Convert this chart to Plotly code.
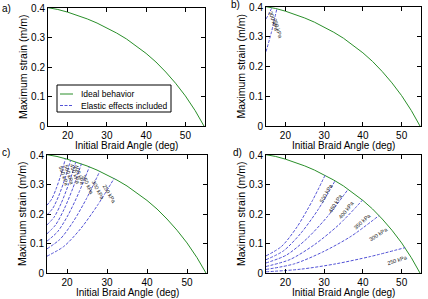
import plotly.graph_objects as go

# ---------------- data ----------------
theta_ideal = [15, 17.5, 20, 22.5, 25, 27.5, 30, 32.5, 35, 37.5, 40, 42.5, 45, 47.5, 50, 52.5, 54.74]
strain_ideal = [0.401, 0.395, 0.386, 0.375, 0.363, 0.349, 0.333, 0.315, 0.295, 0.272,
                0.246, 0.217, 0.183, 0.145, 0.102, 0.052, 0.0]

# panel b
b_labels = ["300 kPa", "250 kPa"]
b_theta = [[15, 15.8, 16.5], [15, 16.4, 17.8]]
b_strain = [[0.360, 0.378, 0.398], [0.250, 0.315, 0.394]]
b_lab_pos = [(16.9, 0.352), (17.9, 0.328)]

# panel c
c_labels = ["550 kPa", "500 kPa", "450 kPa", "400 kPa", "350 kPa", "300 kPa", "250 kPa"]
c_theta = [[15, 16.15, 17.3, 18.45, 19.6],
           [15, 16.475, 17.95, 19.425, 20.9],
           [15, 16.8, 18.6, 20.4, 22.2],
           [15, 17.15, 19.3, 21.45, 23.6],
           [15, 17.65, 20.3, 22.95, 25.6],
           [15, 18.3, 21.6, 24.9, 28.2],
           [15, 19.2, 23.4, 27.6, 31.8]]
c_strain = [[0.230, 0.250, 0.286, 0.332, 0.387],
            [0.197, 0.220, 0.262, 0.317, 0.382],
            [0.163, 0.190, 0.238, 0.301, 0.376],
            [0.133, 0.163, 0.217, 0.287, 0.370],
            [0.108, 0.140, 0.197, 0.272, 0.360],
            [0.082, 0.115, 0.175, 0.253, 0.345],
            [0.057, 0.090, 0.150, 0.229, 0.321]]
c_lab_pos = [(19.3, 0.330), (20.6, 0.333), (21.9, 0.334), (23.1, 0.332),
             (25.3, 0.300), (27.8, 0.282), (30.6, 0.268)]

# panel d
d_labels = ["500 kPa", "450 kPa", "400 kPa", "350 kPa", "300 kPa", "250 kPa"]
d_theta = [[15, 19, 23, 27, 30.3],
           [15, 19.5, 24, 28.5, 32.8],
           [15, 20.3, 25.6, 30.9, 36.2],
           [15, 21.25, 27.5, 33.75, 39.9],
           [15, 22.3, 29.6, 36.9, 44.2],
           [15, 24, 33, 42, 50.9]]
d_strain = [[0.058, 0.090, 0.156, 0.246, 0.333],
            [0.045, 0.075, 0.135, 0.216, 0.312],
            [0.034, 0.061, 0.117, 0.192, 0.284],
            [0.022, 0.046, 0.096, 0.163, 0.247],
            [0.012, 0.031, 0.071, 0.124, 0.195],
            [0.004, 0.013, 0.031, 0.056, 0.086]]
d_lab_pos = [(30.6, 0.270), (33.0, 0.237), (35.7, 0.213), (40.0, 0.175), (44.1, 0.132), (49.0, 0.043)]
d_lab_angle = [-60, -57, -52, -42, -33, -18]

x_ticks = [20, 30, 40, 50]
y_ticks = [0, 0.1, 0.2, 0.3, 0.4]
y_ticktext = ["0", "0.1", "0.2", "0.3", "0.4"]
legend_names = ["Ideal behavior", "Elastic effects included"]

# ---------------- style ----------------
W, H = 428, 299
FONT = "Liberation Sans, Arial, sans-serif"
GREEN = "#2a8f2a"
BLUE = "#5252d6"
DASH = "3px,1.5px"

fig = go.Figure()

# pixel boxes (left, right, top, bottom) and x-title centre y
boxes = {
    "a": (48, 205, 8, 126, 145.5),
    "b": (266, 421, 7, 126, 145.5),
    "c": (47, 207, 155, 273, 292.5),
    "d": (266, 421, 155, 273, 292.5),
}
names = ["a", "b", "c", "d"]

def axis_ids(i):
    return ("x" if i == 0 else f"x{i+1}"), ("y" if i == 0 else f"y{i+1}")

for i, n in enumerate(names):
    xa, ya = axis_ids(i)
    l, r, t, b, ty = boxes[n]
    xk = "xaxis" if i == 0 else f"xaxis{i+1}"
    yk = "yaxis" if i == 0 else f"yaxis{i+1}"
    fig.update_layout(**{
        xk: dict(domain=[l / W, r / W], anchor=ya, range=[15, 55], tickvals=x_ticks,
                 ticks="inside", ticklen=4, tickcolor="black", showline=True, mirror="allticks",
                 linecolor="black", linewidth=1, showgrid=False, zeroline=False,
                 tickfont=dict(size=10, family=FONT, color="black"), automargin=False),
        yk: dict(domain=[1 - b / H, 1 - t / H], anchor=xa, range=[0, 0.4], tickvals=y_ticks,
                 ticktext=y_ticktext,
                 ticks="inside", ticklen=4, tickcolor="black", showline=True, mirror="allticks",
                 linecolor="black", linewidth=1, showgrid=False, zeroline=False,
                 tickfont=dict(size=10, family=FONT, color="black"), automargin=False),
    })
    # axis titles
    fig.add_annotation(x=(l + r) / 2 / W, y=1 - ty / H, xref="paper", yref="paper",
                       text="Initial Braid Angle (deg)", showarrow=False,
                       xanchor="center", yanchor="middle",
                       font=dict(size=10, family=FONT, color="black"))
    fig.add_annotation(x=(l - 25) / W, y=1 - (t + b) / 2 / H, xref="paper", yref="paper",
                       text="Maximum strain (m/m)", showarrow=False, textangle=-90,
                       xanchor="center", yanchor="middle",
                       font=dict(size=10.5, family=FONT, color="black"))

# ideal curve in every panel
for i in range(4):
    xa, ya = axis_ids(i)
    fig.add_trace(go.Scatter(x=theta_ideal, y=strain_ideal, mode="lines", xaxis=xa, yaxis=ya,
                             line=dict(color=GREEN, width=1), name=legend_names[0],
                             showlegend=False))

def add_family(idx, thetas, strains):
    xa, ya = axis_ids(idx)
    for th, st in zip(thetas, strains):
        fig.add_trace(go.Scatter(x=th, y=st, mode="lines", xaxis=xa, yaxis=ya, showlegend=False,
                                 name=legend_names[1],
                                 line=dict(color=BLUE, width=1, dash=DASH, shape="spline", smoothing=0.8)))

add_family(1, b_theta, b_strain)
add_family(2, c_theta, c_strain)
add_family(3, d_theta, d_strain)

def add_labels(idx, labels, pos, angles):
    xa, ya = axis_ids(idx)
    for lab, (px, py), ang in zip(labels, pos, angles):
        fig.add_annotation(x=px, y=py, xref=xa, yref=ya, text=lab, showarrow=False,
                           textangle=ang, font=dict(size=5.5, family=FONT, color="#222"))

add_labels(1, b_labels, b_lab_pos, [72, 72])
add_labels(2, c_labels, c_lab_pos, [72, 72, 72, 72, 65, 62, 60])
add_labels(3, d_labels, d_lab_pos, d_lab_angle)

# panel letters
for txt, px, py in [("a)", 0, 9), ("b)", 229, 5), ("c)", 0, 152), ("d)", 231, 152)]:
    fig.add_annotation(x=px / W, y=1 - py / H, xref="paper", yref="paper", text=txt,
                       showarrow=False, xanchor="left", yanchor="middle",
                       font=dict(size=10, family=FONT, color="black"))

# legend box drawn by hand (panel a)
LX0, LX1, LY0, LY1 = 57, 171, 85, 112
fig.add_shape(type="rect", xref="paper", yref="paper",
              x0=LX0 / W, x1=LX1 / W, y0=1 - LY1 / H, y1=1 - LY0 / H,
              line=dict(color="black", width=1), fillcolor="white", layer="above")
for k, (nm, col, dsh) in enumerate([(legend_names[0], GREEN, "solid"), (legend_names[1], BLUE, DASH)]):
    yy = 94 + k * 11.5
    fig.add_shape(type="line", xref="paper", yref="paper",
                  x0=60 / W, x1=73 / W, y0=1 - yy / H, y1=1 - yy / H,
                  line=dict(color=col, width=1, dash=dsh), layer="above")
    fig.add_annotation(x=79 / W, y=1 - yy / H, xref="paper", yref="paper", text=nm,
                       showarrow=False, xanchor="left", yanchor="middle",
                       font=dict(size=8.5, family=FONT, color="black"))

fig.update_layout(
    width=W, height=H, margin=dict(l=0, r=0, t=0, b=0),
    paper_bgcolor="white", plot_bgcolor="white", showlegend=False,
)

fig.write_html("out.html")
